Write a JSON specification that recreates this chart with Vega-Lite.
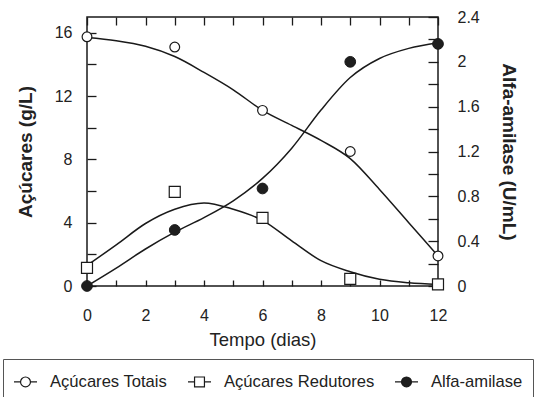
{
  "$schema": "https://vega.github.io/schema/vega-lite/v6.json",
  "width": 351,
  "height": 269,
  "autosize": {"type": "none"},
  "padding": {"left": 87, "top": 17, "right": 97, "bottom": 111},
  "background": "#ffffff",
  "config": {
    "font": "Liberation Sans",
    "view": {"stroke": "#1a1a1a", "strokeWidth": 1.5},
    "axis": {
      "domain": false,
      "grid": false,
      "tickColor": "#1a1a1a",
      "tickWidth": 1.3,
      "labelColor": "#222222",
      "titleColor": "#222222",
      "labelFont": "Liberation Sans",
      "titleFont": "Liberation Sans",
      "labelFontSize": 16,
      "labelFontWeight": "normal",
      "labelFlush": false
    }
  },
  "datasets": {
    "pontos": [
      {"dia": 0, "serie": "Açúcares Totais", "valor": 15.75},
      {"dia": 3, "serie": "Açúcares Totais", "valor": 15.1},
      {"dia": 6, "serie": "Açúcares Totais", "valor": 11.1},
      {"dia": 9, "serie": "Açúcares Totais", "valor": 8.5},
      {"dia": 12, "serie": "Açúcares Totais", "valor": 1.9},
      {"dia": 0, "serie": "Açúcares Redutores", "valor": 1.15},
      {"dia": 3, "serie": "Açúcares Redutores", "valor": 5.95},
      {"dia": 6, "serie": "Açúcares Redutores", "valor": 4.3},
      {"dia": 9, "serie": "Açúcares Redutores", "valor": 0.45},
      {"dia": 12, "serie": "Açúcares Redutores", "valor": 0.1},
      {"dia": 0, "serie": "Alfa-amilase", "valor": 0},
      {"dia": 3, "serie": "Alfa-amilase", "valor": 0.5},
      {"dia": 6, "serie": "Alfa-amilase", "valor": 0.87},
      {"dia": 9, "serie": "Alfa-amilase", "valor": 2.0},
      {"dia": 12, "serie": "Alfa-amilase", "valor": 2.16}
    ],
    "curvas": [
      {"dia": 0, "serie": "Açúcares Totais", "valor": 15.7},
      {"dia": 1, "serie": "Açúcares Totais", "valor": 15.5},
      {"dia": 2, "serie": "Açúcares Totais", "valor": 15.15},
      {"dia": 3, "serie": "Açúcares Totais", "valor": 14.5},
      {"dia": 4, "serie": "Açúcares Totais", "valor": 13.5},
      {"dia": 5, "serie": "Açúcares Totais", "valor": 12.4},
      {"dia": 6, "serie": "Açúcares Totais", "valor": 11.1},
      {"dia": 7, "serie": "Açúcares Totais", "valor": 10.15},
      {"dia": 8, "serie": "Açúcares Totais", "valor": 9.2},
      {"dia": 9, "serie": "Açúcares Totais", "valor": 8.05},
      {"dia": 10, "serie": "Açúcares Totais", "valor": 6.1},
      {"dia": 11, "serie": "Açúcares Totais", "valor": 4.0},
      {"dia": 12, "serie": "Açúcares Totais", "valor": 1.9},
      {"dia": 0, "serie": "Açúcares Redutores", "valor": 1.3},
      {"dia": 1, "serie": "Açúcares Redutores", "valor": 2.6},
      {"dia": 2, "serie": "Açúcares Redutores", "valor": 3.95},
      {"dia": 3, "serie": "Açúcares Redutores", "valor": 4.85},
      {"dia": 4, "serie": "Açúcares Redutores", "valor": 5.25},
      {"dia": 5, "serie": "Açúcares Redutores", "valor": 4.85},
      {"dia": 6, "serie": "Açúcares Redutores", "valor": 4.15},
      {"dia": 7, "serie": "Açúcares Redutores", "valor": 2.85},
      {"dia": 8, "serie": "Açúcares Redutores", "valor": 1.6},
      {"dia": 9, "serie": "Açúcares Redutores", "valor": 0.9},
      {"dia": 10, "serie": "Açúcares Redutores", "valor": 0.42},
      {"dia": 11, "serie": "Açúcares Redutores", "valor": 0.2},
      {"dia": 12, "serie": "Açúcares Redutores", "valor": 0.1},
      {"dia": 0, "serie": "Alfa-amilase", "valor": 0},
      {"dia": 1, "serie": "Alfa-amilase", "valor": 0.16},
      {"dia": 2, "serie": "Alfa-amilase", "valor": 0.33},
      {"dia": 3, "serie": "Alfa-amilase", "valor": 0.48},
      {"dia": 4, "serie": "Alfa-amilase", "valor": 0.61},
      {"dia": 5, "serie": "Alfa-amilase", "valor": 0.76},
      {"dia": 6, "serie": "Alfa-amilase", "valor": 0.96},
      {"dia": 7, "serie": "Alfa-amilase", "valor": 1.23},
      {"dia": 8, "serie": "Alfa-amilase", "valor": 1.57},
      {"dia": 9, "serie": "Alfa-amilase", "valor": 1.86},
      {"dia": 10, "serie": "Alfa-amilase", "valor": 2.03},
      {"dia": 11, "serie": "Alfa-amilase", "valor": 2.12},
      {"dia": 12, "serie": "Alfa-amilase", "valor": 2.17}
    ]
  },
  "resolve": {"scale": {"y": "independent"}, "axis": {"x": "independent", "y": "independent"}},
  "layer": [
    {
      "data": {"name": "curvas"},
      "transform": [{"filter": "datum.serie != 'Alfa-amilase'"}],
      "mark": {"type": "line", "interpolate": "monotone", "color": "#1a1a1a", "strokeWidth": 1.5},
      "encoding": {
        "x": {
          "field": "dia", "type": "quantitative",
          "scale": {"domain": [0, 12], "nice": false},
          "axis": {
            "orient": "bottom",
            "values": [0, 1, 2, 3, 4, 5, 6, 7, 8, 9, 10, 11, 12],
            "labelExpr": "datum.value % 2 == 0 ? datum.label : ''",
            "labelFlush": false,
            "tickSize": -6,
            "labelPadding": 27,
            "title": "Tempo (dias)",
            "titleFontSize": 18.5,
            "titleFontWeight": "normal",
            "titleX": 175.5,
            "titleY": 44.5
          }
        },
        "y": {
          "field": "valor", "type": "quantitative",
          "scale": {"domain": [0, 17], "nice": false},
          "axis": {
            "orient": "left",
            "values": [0, 2, 4, 6, 8, 10, 12, 14, 16],
            "labelExpr": "datum.value % 4 == 0 ? datum.label : ''",
            "tickSize": -9,
            "labelPadding": 24,
            "title": "Açúcares (g/L)",
            "titleFontSize": 19,
            "titleFontWeight": "bold",
            "titleX": -52,
            "titleY": 134.5
          }
        },
        "detail": {"field": "serie"}
      }
    },
    {
      "data": {"name": "curvas"},
      "transform": [{"filter": "datum.serie == 'Alfa-amilase'"}],
      "mark": {"type": "line", "interpolate": "monotone", "color": "#1a1a1a", "strokeWidth": 1.5},
      "encoding": {
        "x": {
          "field": "dia", "type": "quantitative",
          "scale": {"domain": [0, 12], "nice": false},
          "axis": {
            "orient": "top",
            "values": [0, 1, 2, 3, 4, 5, 6, 7, 8, 9, 10, 11, 12],
            "labels": false,
            "tickSize": -8,
            "title": null
          }
        },
        "y": {
          "field": "valor", "type": "quantitative",
          "scale": {"domain": [0, 2.4], "nice": false},
          "axis": {
            "orient": "right",
            "values": [0, 0.2, 0.4, 0.6, 0.8, 1, 1.2, 1.4, 1.6, 1.8, 2, 2.2, 2.4],
            "labelExpr": "round(datum.value * 10) % 4 == 0 ? toString(round(datum.value * 10) / 10) : ''",
            "tickSize": -10,
            "labelPadding": 29,
            "title": "Alfa-amilase (U/mL)",
            "titleFontSize": 19,
            "titleFontWeight": "bold",
            "titleX": 60,
            "titleY": 134.5
          }
        }
      }
    },
    {
      "data": {"name": "pontos"},
      "transform": [{"filter": "datum.serie == 'Açúcares Totais'"}],
      "mark": {"type": "point", "shape": "circle", "filled": true, "fill": "#ffffff", "stroke": "#1a1a1a", "strokeWidth": 1.2, "size": 95, "opacity": 1},
      "encoding": {
        "x": {"field": "dia", "type": "quantitative", "scale": {"domain": [0, 12], "nice": false}, "axis": null},
        "y": {"field": "valor", "type": "quantitative", "scale": {"domain": [0, 17], "nice": false}, "axis": null}
      }
    },
    {
      "data": {"name": "pontos"},
      "transform": [{"filter": "datum.serie == 'Açúcares Redutores'"}],
      "mark": {"type": "point", "shape": "square", "filled": true, "fill": "#ffffff", "stroke": "#1a1a1a", "strokeWidth": 1.2, "size": 121, "opacity": 1},
      "encoding": {
        "x": {"field": "dia", "type": "quantitative", "scale": {"domain": [0, 12], "nice": false}, "axis": null},
        "y": {"field": "valor", "type": "quantitative", "scale": {"domain": [0, 17], "nice": false}, "axis": null}
      }
    },
    {
      "data": {"name": "pontos"},
      "transform": [{"filter": "datum.serie == 'Alfa-amilase'"}],
      "mark": {"type": "point", "shape": "circle", "filled": true, "fill": "#1e1e1e", "stroke": "#1a1a1a", "strokeWidth": 1, "size": 115, "opacity": 1},
      "encoding": {
        "x": {"field": "dia", "type": "quantitative", "scale": {"domain": [0, 12], "nice": false}, "axis": null},
        "y": {"field": "valor", "type": "quantitative", "scale": {"domain": [0, 2.4], "nice": false}, "axis": null}
      }
    },
    {
      "data": {"name": "pontos"},
      "transform": [{"filter": "false"}],
      "mark": {"type": "point", "filled": true, "stroke": "#1a1a1a", "strokeWidth": 1.2, "opacity": 1},
      "encoding": {
        "shape": {
          "field": "serie", "type": "nominal",
          "scale": {
            "domain": ["Açúcares Totais", "Açúcares Redutores", "Alfa-amilase"],
            "range": [
              "M-1,0H-0.43M0.43,0H1M-0.43,0A0.43,0.43,0,1,1,0.43,0A0.43,0.43,0,1,1,-0.43,0Z",
              "M-1,0H-0.43M0.43,0H1M-0.43,-0.43H0.43V0.43H-0.43Z",
              "M-1,0H-0.43M0.43,0H1M-0.43,0A0.43,0.43,0,1,1,0.43,0A0.43,0.43,0,1,1,-0.43,0Z"
            ]
          },
          "legend": {
            "title": null, "orient": "none", "legendX": -84, "legendY": 342,
            "direction": "horizontal", "columns": 3, "padding": 10,
            "strokeColor": "#555555", "fillColor": "#ffffff",
            "labelFont": "Liberation Sans", "labelFontSize": 16.6, "labelColor": "#222222",
            "symbolSize": 529, "labelOffset": 12, "columnPadding": 17,
            "symbolStrokeColor": "#1a1a1a", "symbolStrokeWidth": 1.2, "symbolOpacity": 1,
            "encode": {"symbols": {"update": {"stroke": {"value": "#1a1a1a"}, "strokeWidth": {"value": 1.2}, "opacity": {"value": 1}}}}
          }
        },
        "fill": {
          "field": "serie", "type": "nominal",
          "scale": {
            "domain": ["Açúcares Totais", "Açúcares Redutores", "Alfa-amilase"],
            "range": ["#ffffff", "#ffffff", "#1e1e1e"]
          },
          "legend": {
            "title": null, "orient": "none", "legendX": -84, "legendY": 342,
            "direction": "horizontal", "columns": 3, "padding": 10,
            "strokeColor": "#555555", "fillColor": "#ffffff",
            "labelFont": "Liberation Sans", "labelFontSize": 16.6, "labelColor": "#222222",
            "symbolSize": 529, "labelOffset": 12, "columnPadding": 17,
            "symbolStrokeColor": "#1a1a1a", "symbolStrokeWidth": 1.2, "symbolOpacity": 1,
            "encode": {"symbols": {"update": {"stroke": {"value": "#1a1a1a"}, "strokeWidth": {"value": 1.2}, "opacity": {"value": 1}}}}
          }
        }
      }
    }
  ]
}
